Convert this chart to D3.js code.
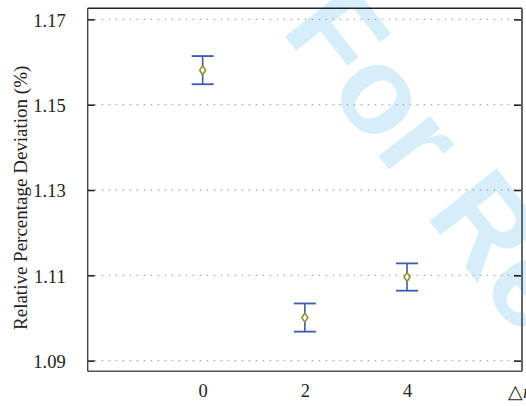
<!DOCTYPE html>
<html>
<head>
<meta charset="utf-8">
<script src="https://cdn.jsdelivr.net/npm/d3@7"></script>
</head>
<body style="margin:0">
<svg id="fig" width="526" height="406"></svg>
<script>
// ---- data ----
const xValues = [0, 2, 4];
const means = [1.1581, 1.1001, 1.1096];
const errors = [0.0033, 0.0033, 0.0032];
const yTickValues = [1.09, 1.11, 1.13, 1.15, 1.17];
const xTickValues = [0, 2, 4];
const yLabel = "Relative Percentage Deviation (%)";
const xLabel = "△r";
const watermark = "For Review Only";

// ---- layout ----
const pLeft = 87.7, pRight = 522, pTop = 8.3, pBottom = 371.3;
const svg = d3.select("#fig");
const SERIF = '"Liberation Serif", "Times New Roman", Tinos';

const x = d3.scaleLinear().domain([-2.25, 6.25]).range([pLeft, pRight]);
const y = d3.scaleLinear().domain([1.0875, 1.1726]).range([pBottom, pTop]);

// watermark (behind everything)
svg.append("text")
  .attr("transform", "translate(280,30) rotate(52)")
  .style("font-family", '"Liberation Sans"')
  .style("font-weight", "bold")
  .style("font-size", "124px")
  .attr("fill", "#d6eefa")
  .text(watermark);

// grid lines
svg.append("g").selectAll("line").data(yTickValues).join("line")
  .attr("x1", pLeft).attr("x2", pRight)
  .attr("y1", d => y(d)).attr("y2", d => y(d))
  .attr("stroke", "#aaa").attr("stroke-width", 1.3)
  .attr("stroke-dasharray", "1.5,5.5");

// left axis
const yAxisL = d3.axisLeft(y).tickValues(yTickValues).tickSize(-7).tickPadding(22)
  .tickFormat(d3.format(".2f"));
const gL = svg.append("g").attr("transform", `translate(${pLeft},0)`).call(yAxisL)
  .attr("font-family", SERIF).attr("font-size", 18.5);
gL.select(".domain").remove();
gL.selectAll(".tick line").attr("stroke", "#222").attr("stroke-width", 1.6);
gL.selectAll(".tick text").style("font-family", SERIF).style("font-size", "18.5px")
  .attr("fill", "#222").attr("dy", "0.37em");

// right axis ticks
const yAxisR = d3.axisRight(y).tickValues(yTickValues).tickSize(-8).tickFormat("");
const gR = svg.append("g").attr("transform", `translate(${pRight},0)`).call(yAxisR);
gR.select(".domain").remove();
gR.selectAll(".tick line").attr("stroke", "#222").attr("stroke-width", 1.6);

// bottom axis labels (no tick marks)
const xAxis = d3.axisBottom(x).tickValues(xTickValues).tickSize(0).tickPadding(13)
  .tickFormat(d3.format("d"));
const gB = svg.append("g").attr("transform", `translate(0,${pBottom})`).call(xAxis)
  .attr("font-family", SERIF).attr("font-size", 18.5);
gB.select(".domain").remove();
gB.selectAll(".tick text").style("font-family", SERIF).style("font-size", "18.5px").attr("fill", "#222");

// frame
svg.append("line").attr("x1", pLeft).attr("x2", pRight).attr("y1", pTop).attr("y2", pTop)
  .attr("stroke", "#222").attr("stroke-width", 1.6);
svg.append("line").attr("x1", pLeft).attr("x2", pRight).attr("y1", pBottom).attr("y2", pBottom)
  .attr("stroke", "#555").attr("stroke-width", 1.5);
svg.append("line").attr("x1", pLeft).attr("x2", pLeft).attr("y1", pTop).attr("y2", pBottom)
  .attr("stroke", "#444").attr("stroke-width", 1.4);
svg.append("line").attr("x1", pRight).attr("x2", pRight).attr("y1", pTop).attr("y2", pBottom)
  .attr("stroke", "#666").attr("stroke-width", 2);

// error bars
const pts = xValues.map((v, i) => ({ x: v, m: means[i], e: errors[i] }));
const eb = svg.append("g").selectAll("g").data(pts).join("g");
const blue = "#3d5cb0";
eb.append("line")
  .attr("x1", d => x(d.x)).attr("x2", d => x(d.x))
  .attr("y1", d => y(d.m + d.e)).attr("y2", d => y(d.m - d.e))
  .attr("stroke", blue).attr("stroke-width", 1.6);
eb.append("line")
  .attr("x1", d => x(d.x) - 11).attr("x2", d => x(d.x) + 11)
  .attr("y1", d => y(d.m + d.e)).attr("y2", d => y(d.m + d.e))
  .attr("stroke", blue).attr("stroke-width", 1.8);
eb.append("line")
  .attr("x1", d => x(d.x) - 11).attr("x2", d => x(d.x) + 11)
  .attr("y1", d => y(d.m - d.e)).attr("y2", d => y(d.m - d.e))
  .attr("stroke", blue).attr("stroke-width", 1.8);
// diamond markers
eb.append("path")
  .attr("d", d => {
    const cx = x(d.x), cy = y(d.m);
    return `M${cx},${cy - 4.5}L${cx + 3},${cy}L${cx},${cy + 4.5}L${cx - 3},${cy}Z`;
  })
  .attr("fill", "#fff").attr("stroke", "#8c8a2c").attr("stroke-width", 1.5);

// axis labels
svg.append("text")
  .attr("transform", `translate(27,${(pTop + pBottom) / 2 + 8}) rotate(-90)`)
  .attr("text-anchor", "middle")
  .style("font-family", SERIF).style("font-size", "19px").attr("fill", "#222")
  .text(yLabel);

const xl = svg.append("text")
  .attr("x", 508).attr("y", 397.5)
  .style("font-family", SERIF).style("font-size", "19px").attr("fill", "#222")
  .text(xLabel.slice(0, 1));
xl.append("tspan").style("font-style", "italic").text(xLabel.slice(1));
</script>
</body>
</html>
